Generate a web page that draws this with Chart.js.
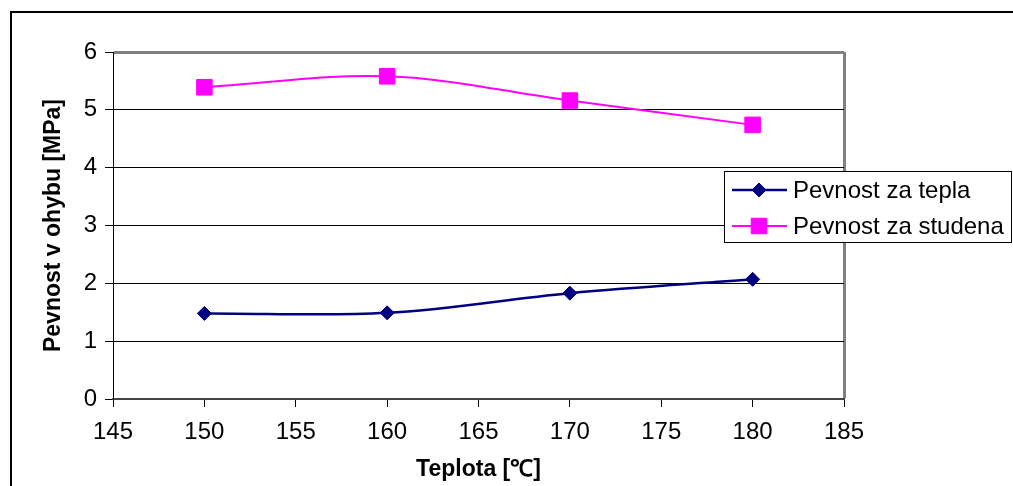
<!DOCTYPE html>
<html>
<head>
<meta charset="utf-8">
<script src="https://cdn.jsdelivr.net/npm/chart.js@4.4.1/dist/chart.umd.min.js"></script>
<style>
  html, body { margin: 0; padding: 0; background: #fff; }
  canvas { display: block; }
</style>
</head>
<body>
<canvas id="graf" width="1013" height="486"></canvas>
<script>
// teplota lisování [°C] a pevnost v ohybu [MPa]
const teploty = [150, 160, 170, 180];
const pevnostTepla = [1.48, 1.49, 1.83, 2.07];
const pevnostStudena = [5.39, 5.58, 5.16, 4.74];
const xTicks = [145, 150, 155, 160, 165, 170, 175, 180, 185];
const yTicks = [0, 1, 2, 3, 4, 5, 6];

const pismo = 'Arial, "Liberation Sans", sans-serif';

// rámeček kolem celého grafu + bílé pozadí
const ramecek = {
    id: 'ramecek',
    beforeDraw(chart) {
        const ctx = chart.ctx;
        ctx.save();
        ctx.fillStyle = '#fff';
        ctx.fillRect(0, 0, chart.width, chart.height);
        ctx.strokeStyle = '#000';
        ctx.lineWidth = 2;
        ctx.beginPath();
        ctx.moveTo(11, chart.height + 2);
        ctx.lineTo(11, 12);
        ctx.lineTo(chart.width + 2, 12);
        ctx.stroke();
        ctx.restore();
    }
};

function znacka(ctx, typ, x, y, r, barva) {
    ctx.fillStyle = barva;
    ctx.strokeStyle = barva;
    ctx.lineWidth = 1;
    ctx.beginPath();
    if (typ === 'rectRot') {
        ctx.moveTo(x - r, y);
        ctx.lineTo(x, y - r);
        ctx.lineTo(x + r, y);
        ctx.lineTo(x, y + r);
    } else {
        const s = r * Math.SQRT1_2;
        ctx.rect(x - s, y - s, 2 * s, 2 * s);
    }
    ctx.closePath();
    ctx.fill();
    ctx.stroke();
}

// legenda v rámečku vpravo, přes okraj grafu
const legenda = {
    id: 'legenda',
    afterDraw(chart) {
        const ctx = chart.ctx;
        const x0 = 724, y0 = 171, w = 287, h = 71;
        ctx.save();
        ctx.fillStyle = '#fff';
        ctx.fillRect(x0, y0, w, h);
        ctx.strokeStyle = '#000';
        ctx.lineWidth = 1;
        ctx.strokeRect(x0 + 0.5, y0 + 0.5, w, h);
        chart.data.datasets.forEach((ds, i) => {
            const y = y0 + 19 + i * 36;
            ctx.strokeStyle = ds.borderColor;
            ctx.lineWidth = ds.borderWidth;
            ctx.beginPath();
            ctx.moveTo(x0 + 8, y);
            ctx.lineTo(x0 + 63, y);
            ctx.stroke();
            znacka(ctx, ds.pointStyle, x0 + 35, y, ds.pointRadius, ds.pointBackgroundColor);
            ctx.fillStyle = '#000';
            ctx.font = '24px ' + pismo;
            ctx.textBaseline = 'middle';
            ctx.textAlign = 'left';
            ctx.fillText(ds.label, x0 + 69, y + 1);
        });
        ctx.restore();
    }
};

new Chart(document.getElementById('graf'), {
    type: 'line',
    data: {
        datasets: [{
            label: 'Pevnost za tepla',
            data: teploty.map((t, i) => ({x: t, y: pevnostTepla[i]})),
            borderColor: '#000080',
            backgroundColor: '#000080',
            pointBackgroundColor: '#000080',
            pointBorderColor: '#000080',
            borderWidth: 2.5,
            pointStyle: 'rectRot',
            pointRadius: 7,
            pointBorderWidth: 1,
            tension: 0.35
        }, {
            label: 'Pevnost za studena',
            data: teploty.map((t, i) => ({x: t, y: pevnostStudena[i]})),
            borderColor: '#ff00ff',
            backgroundColor: '#ff00ff',
            pointBackgroundColor: '#ff00ff',
            pointBorderColor: '#ff00ff',
            borderWidth: 2,
            pointStyle: 'rect',
            pointRadius: 11,
            pointBorderWidth: 1,
            tension: 0.35
        }]
    },
    options: {
        responsive: false,
        animation: false,
        layout: { padding: { left: 0, top: 52, right: 169, bottom: 0 } },
        plugins: {
            legend: { display: false },
            tooltip: { enabled: false }
        },
        scales: {
            x: {
                type: 'linear',
                min: xTicks[0],
                max: xTicks[xTicks.length - 1],
                afterBuildTicks: s => { s.ticks = xTicks.map(v => ({value: v})); },
                afterFit: s => { s.height = 87; },
                ticks: { color: '#000', font: { family: pismo, size: 24 }, padding: 11, maxRotation: 0, autoSkip: false },
                grid: {
                    color: c => (c.tick && c.tick.value === 185) ? '#808080' : 'rgba(0,0,0,0)',
                    lineWidth: c => (c.tick && c.tick.value === 185) ? 3 : 1,
                    tickColor: '#000',
                    tickWidth: 1,
                    tickLength: 8
                },
                border: { color: '#444', width: 2 },
                title: {
                    display: true,
                    text: 'Teplota [℃]',
                    color: '#000',
                    font: { family: pismo, size: 23, weight: 'bold' },
                    padding: { bottom: 3 }
                }
            },
            y: {
                min: yTicks[0],
                max: yTicks[yTicks.length - 1],
                afterBuildTicks: s => { s.ticks = yTicks.map(v => ({value: v})); },
                afterFit: s => { s.width = 113; },
                ticks: { color: '#000', font: { family: pismo, size: 24 }, padding: 8 },
                grid: {
                    color: c => (c.tick && c.tick.value === 6) ? '#808080' : '#000',
                    lineWidth: c => (c.tick && c.tick.value === 6) ? 3 : 1,
                    tickColor: '#000',
                    tickWidth: 1,
                    tickLength: 8
                },
                border: { color: '#000', width: 1 },
                title: {
                    display: true,
                    text: 'Pevnost v ohybu [MPa]',
                    color: '#000',
                    font: { family: pismo, size: 23, weight: 'bold' },
                    padding: { top: 40 }
                }
            }
        }
    },
    plugins: [ramecek, legenda]
});
</script>
</body>
</html>
